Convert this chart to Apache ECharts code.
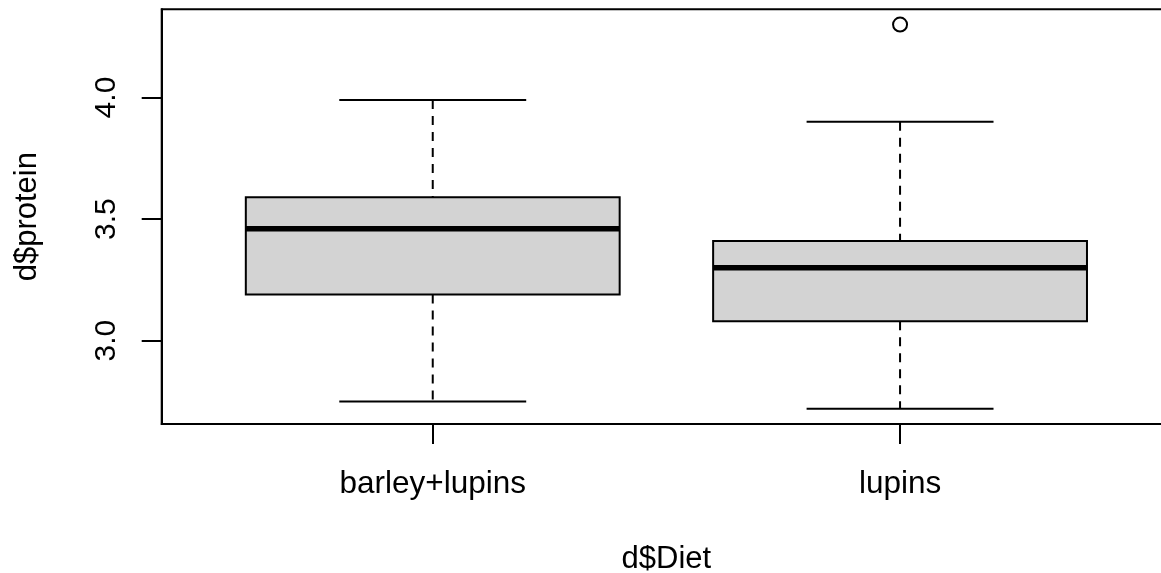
<!DOCTYPE html>
<html>
<head>
<meta charset="utf-8">
<script src="https://cdn.jsdelivr.net/npm/echarts@6/dist/echarts.min.js"></script>
<style>
html,body{margin:0;padding:0;background:#fff;}
#chart{width:1161px;height:573px;}
</style>
</head>
<body>
<div id="chart"></div>
<script>
// Data
var categories = ['barley+lupins', 'lupins'];
// [lower whisker, Q1, median, Q3, upper whisker]
var boxStats = [
  [2.75, 3.19, 3.46, 3.59, 3.99],
  [2.72, 3.08, 3.30, 3.41, 3.90]
];
var outliers = [[2, 4.30]];
var yTicks = [3.0, 3.5, 4.0];
var xTicks = [1, 2];
var yMin = 2.657, yMax = 4.363;

var FONT = '"Liberation Sans", Arial, Helvetica, sans-serif';
var chart = echarts.init(document.getElementById('chart'), null, {renderer: 'canvas'});

var boxData = boxStats.map(function (s, i) { return [i + 1].concat(s); });

function renderBox(params, api) {
  var x = api.value(0);
  var lo = api.value(1), q1 = api.value(2), med = api.value(3), q3 = api.value(4), hi = api.value(5);
  var bw = 0.4, cw = 0.2;
  var pTL = api.coord([x - bw, q3]);
  var pBR = api.coord([x + bw, q1]);
  var pMedL = api.coord([x - bw, med]);
  var pMedR = api.coord([x + bw, med]);
  var pc = api.coord([x, hi]);
  var pq3 = api.coord([x, q3]);
  var pq1 = api.coord([x, q1]);
  var pl = api.coord([x, lo]);
  var capHiL = api.coord([x - cw, hi]), capHiR = api.coord([x + cw, hi]);
  var capLoL = api.coord([x - cw, lo]), capLoR = api.coord([x + cw, lo]);
  var solid = {stroke: '#000', lineWidth: 2, fill: null};
  var dashed = {stroke: '#000', lineWidth: 2, lineDash: [9, 7], fill: null};
  return {
    type: 'group',
    children: [
      {type: 'line', shape: {x1: pc[0], y1: pc[1], x2: pq3[0], y2: pq3[1]}, style: dashed},
      {type: 'line', shape: {x1: pq1[0], y1: pq1[1], x2: pl[0], y2: pl[1]}, style: dashed},
      {type: 'line', shape: {x1: capHiL[0], y1: capHiL[1], x2: capHiR[0], y2: capHiR[1]}, style: solid},
      {type: 'line', shape: {x1: capLoL[0], y1: capLoL[1], x2: capLoR[0], y2: capLoR[1]}, style: solid},
      {type: 'rect', shape: {x: pTL[0], y: pTL[1], width: pBR[0] - pTL[0], height: pBR[1] - pTL[1]},
        style: {fill: '#D3D3D3', stroke: '#000', lineWidth: 2}},
      {type: 'line', shape: {x1: pMedL[0], y1: pMedL[1], x2: pMedR[0], y2: pMedR[1]},
        style: {stroke: '#000', lineWidth: 5.5}}
    ]
  };
}

var option = {
  backgroundColor: '#fff',
  animation: false,
  grid: {
    left: 161.7, top: 9.3, width: 1009.4, height: 414.7,
    show: true, borderColor: '#000', borderWidth: 2, containLabel: false,
    outerBoundsMode: 'none'
  },
  xAxis: {
    type: 'value', min: 0.42, max: 2.58,
    name: 'd$Diet', nameLocation: 'middle', nameGap: 120,
    nameTextStyle: {color: '#000', fontSize: 31, fontFamily: FONT},
    axisLine: {show: true, onZero: false, lineStyle: {color: '#000', width: 2}},
    axisTick: {show: true, length: 20, customValues: xTicks, lineStyle: {color: '#000', width: 2}},
    axisLabel: {
      show: true, customValues: xTicks, margin: 44, color: '#000', fontSize: 31.5, fontFamily: FONT,
      hideOverlap: false,
      formatter: function (v) { return categories[Math.round(v) - 1] || ''; }
    },
    splitLine: {show: false}
  },
  yAxis: {
    type: 'value', min: yMin, max: yMax,
    name: 'd$protein', nameLocation: 'middle', nameGap: 119, nameRotate: 90,
    nameTextStyle: {color: '#000', fontSize: 31, fontFamily: FONT},
    axisLine: {show: true, onZero: false, lineStyle: {color: '#000', width: 2}},
    axisTick: {show: true, length: 20, customValues: yTicks, lineStyle: {color: '#000', width: 2}},
    axisLabel: {
      show: true, customValues: yTicks, rotate: 90, margin: 40, color: '#000', fontSize: 30, fontFamily: FONT,
      formatter: function (v) { return v.toFixed(1); }
    },
    splitLine: {show: false}
  },
  series: [
    {
      type: 'custom',
      renderItem: renderBox,
      data: boxData,
      encode: {x: 0, y: [1, 2, 3, 4, 5]},
      clip: false
    },
    {
      type: 'scatter',
      data: outliers,
      symbol: 'circle',
      symbolSize: 14,
      itemStyle: {color: '#fff', borderColor: '#000', borderWidth: 2, opacity: 1},
      z: 5
    }
  ]
};
chart.setOption(option);
</script>
</body>
</html>
